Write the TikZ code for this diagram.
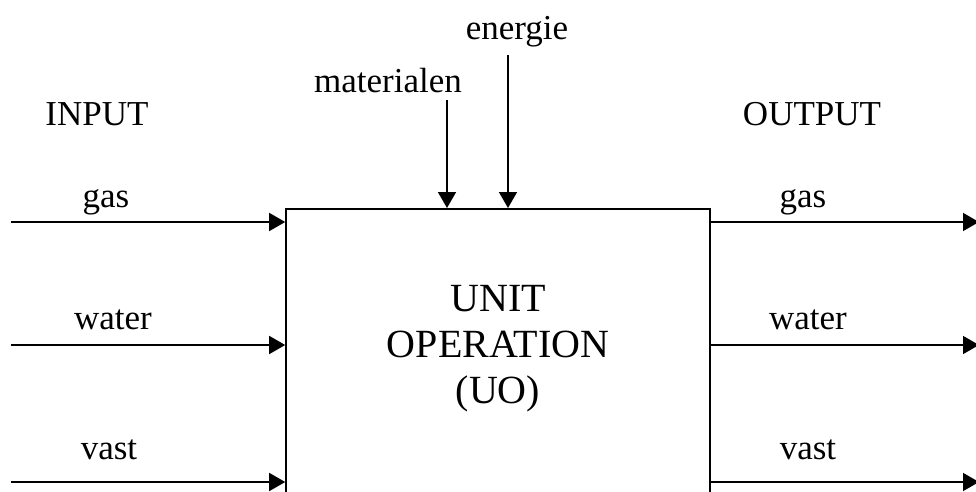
\documentclass[tikz,border=0pt]{standalone}
\usepackage{fontspec}
\setmainfont{Liberation Serif}
\usepackage{tikz}
\usetikzlibrary{positioning,calc,arrows.meta}

\tikzset{
    flow/.style={line width=1.6pt, -{Triangle[length=16pt,width=18pt]}},
    lbl/.style={anchor=base, inner sep=0pt, font=\fontsize{35}{40}\selectfont},
}

\begin{document}
\begin{tikzpicture}[x=1pt,y=1pt]
    \clip (0,0) rectangle (976,491); % page frame
    \node [draw, line width=1.6pt, anchor=north, minimum width=424pt, minimum height=330pt] (uo) at (498,283) {}; % Unit operation box
    \node [align=center, font=\fontsize{40}{46}\selectfont] (uotext) at (498,142) {UNIT\\OPERATION\\(UO)};
    % input side
    \node [lbl] (input) at (97,366) {INPUT};
    \coordinate (ingas) at (11,269);
    \coordinate (inwater) at (11,146);
    \coordinate (invast) at (11,9);
    \draw [flow] (ingas) -- (uo.west |- ingas);
    \draw [flow] (inwater) -- (uo.west |- inwater);
    \draw [flow] (invast) -- (uo.west |- invast);
    \node [lbl] (ingaslbl) at (106,284) {gas};
    \node [lbl] (inwaterlbl) at (113,162) {water};
    \node [lbl] (invastlbl) at (109,32) {vast};
    % output side
    \node [lbl] (output) at (812,366) {OUTPUT};
    \coordinate (outgas) at (979,269);
    \coordinate (outwater) at (979,146);
    \coordinate (outvast) at (979,9);
    \draw [flow] (uo.east |- outgas) -- (outgas);
    \draw [flow] (uo.east |- outwater) -- (outwater);
    \draw [flow] (uo.east |- outvast) -- (outvast);
    \node [lbl] (outgaslbl) at (803,284) {gas};
    \node [lbl] (outwaterlbl) at (808,162) {water};
    \node [lbl] (outvastlbl) at (808,32) {vast};
    % top inputs
    \node [lbl] (mat) at (388,399) {materialen};
    \node [lbl] (energie) at (517,451) {energie};
    \coordinate (matstart) at (447,391);
    \coordinate (enstart) at (508,436);
    \draw [flow] (matstart) -- (matstart |- uo.north);
    \draw [flow] (enstart) -- (enstart |- uo.north);
\end{tikzpicture}
\end{document}
